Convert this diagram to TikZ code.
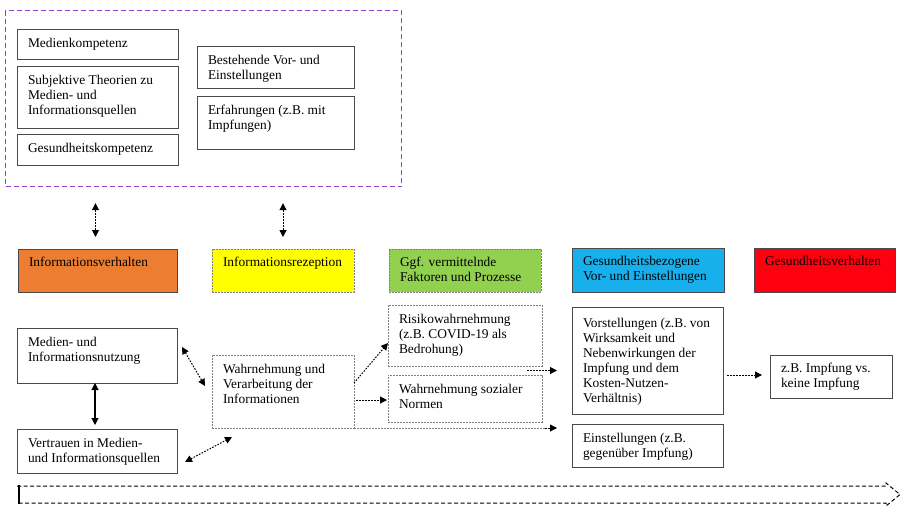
\documentclass[tikz,border=0pt]{standalone}
\usepackage{fontspec}
\setmainfont{Liberation Serif}
\usetikzlibrary{arrows.meta,calc}
\definecolor{borderc}{HTML}{4A4A4A}
\definecolor{dotc}{HTML}{808080}
\definecolor{purplec}{HTML}{8A3FC8}
\definecolor{orangec}{HTML}{ED7D31}
\definecolor{yellowc}{HTML}{FFFF00}
\definecolor{greenc}{HTML}{92D050}
\definecolor{bluec}{HTML}{18B0EC}
\definecolor{redc}{HTML}{FF0010}
\newcommand\mybx[8]{\node[#6,anchor=north west,inner sep=0pt,outer sep=0pt] (#1) at (#2,#3) {\parbox[c][#5pt][t]{#4pt}{\fontsize{13.4}{15}\selectfont\parindent=0pt\leftskip=11pt\rightskip=0pt plus 1fil\vskip#7pt\strut#8}};}
\tikzset{
  solidbox/.style={draw=borderc,line width=0.9pt},
  dotbox/.style={draw=dotc,line width=0.9pt,dash pattern=on 1.6pt off 1.4pt},
  tipa/.tip={Triangle[length=7pt,width=7pt]},
  dotarrow/.style={line width=1pt,dash pattern=on 1.6pt off 1.4pt,-tipa},
  dotboth/.style={line width=1pt,dash pattern=on 1.6pt off 1.4pt,tipa-tipa},
  solidboth/.style={line width=1.1pt,tipa-tipa},
}
\begin{document}
\begin{tikzpicture}[x=1pt,y=-1pt]
\useasboundingbox (0,0) rectangle (905,509);
% context frame
\node[draw=purplec,line width=1.2pt,dash pattern=on 5pt off 3pt,minimum width=396pt,minimum height=176pt,anchor=north west,inner sep=0pt] (ctx) at (5,10) {};
\mybx{a1}{17}{29}{161}{30}{solidbox}{7.5}{Medienkompetenz}
\mybx{a2}{17}{66}{161}{62}{solidbox}{7.5}{Subjektive Theorien zu\\Medien- und\\Informationsquellen}
\mybx{a3}{17}{134}{161}{31}{solidbox}{7.5}{Gesundheitskompetenz}
\mybx{b1}{197}{46}{157}{42}{solidbox}{7.5}{Bestehende Vor- und\\Einstellungen}
\mybx{b2}{197}{96}{157}{53}{solidbox}{7.5}{Erfahrungen (z.B. mit\\Impfungen)}
% headers
\mybx{h1}{18}{249}{159}{43}{solidbox,fill=orangec}{6.5}{Informationsverhalten}
\mybx{h2}{212}{249}{142}{43}{dotbox,fill=yellowc}{6.5}{Informationsrezeption}
\mybx{h3}{389}{249}{152}{43}{dotbox,fill=greenc}{6.5}{Ggf. vermittelnde\\Faktoren und Prozesse}
\mybx{h4}{572}{248}{152}{44}{solidbox,fill=bluec}{7}{Gesundheitsbezogene\\Vor- und Einstellungen}
\mybx{h5}{754}{248}{141}{44}{solidbox,fill=redc}{6.5}{Gesundheitsverhalten}
% lower boxes
\mybx{m1}{17}{328}{160}{55}{solidbox}{7.5}{Medien- und\\Informationsnutzung}
\mybx{m2}{17}{429}{160}{44}{solidbox}{7.5}{Vertrauen in Medien-\\und Informationsquellen}
\mybx{w1}{212}{355}{142}{73}{dotbox}{8}{Wahrnehmung und\\Verarbeitung der\\Informationen}
\mybx{r1}{388}{305}{154}{61}{dotbox}{7.5}{Risikowahrnehmung\\(z.B. COVID-19 als\\Bedrohung)}
\mybx{r2}{388}{375}{154}{47}{dotbox}{7.5}{Wahrnehmung sozialer\\Normen}
\mybx{v1}{572}{307}{151}{107}{solidbox}{10}{Vorstellungen (z.B. von\\Wirksamkeit und\\Nebenwirkungen der\\Impfung und dem\\Kosten-Nutzen-\\Verhältnis)}
\mybx{e1}{572}{424}{151}{43}{solidbox}{7.5}{Einstellungen (z.B.\\gegenüber Impfung)}
\mybx{z1}{770}{355}{122}{43}{solidbox}{6.5}{z.B. Impfung vs.\\keine Impfung}
% connectors
\draw[dotboth] ($(ctx.south -| h1.north)+(-2,16)$) -- ($(h1.north)+(-2,-12)$);
\draw[dotboth] ($(ctx.south -| h2.north)+(0,16)$) -- ($(h2.north)+(0,-12)$);
\draw[solidboth] ($(m1.south)+(-2,0)$) -- ($(m2.north)+(-2,-4)$);
\draw[dotboth] ($(m1.east)+(5,-8.5)$) -- ($(w1.west)+(-7,-5.5)$);
\draw[dotboth] ($(m2.east)+(8,11)$) -- ($(w1.south west)+(20,9)$);
\draw[dotarrow] ($(w1.east)+(0,-8.5)$) -- ($(r1.west)+(0,7.5)$);
\draw[dotarrow] ($(w1.east)+(2,8.5)$) -- ($(r2.west)+(-1,1.5)$);
\coordinate (e1in) at ($(e1.north west)+(-15,4)$);
\draw[dotarrow,draw=dotc,-] (w1.south east) -- ($(w1.south east -| e1in)+(-12,0)$);
\draw[dotarrow] ($(w1.south east -| e1in)+(-12,0)$) -- (e1in);
\coordinate (rg) at ($(r1.south east)!0.5!(r2.north east)+(-15,0)$);
\draw[dotarrow] (rg) -- ($(v1.west |- rg)+(-15,0)$);
\draw[dotarrow] ($(v1.east |- z1.west)+(4,-1.5)$) -- ($(z1.west)+(-8,-1.5)$);
% bottom process arrow
\draw[line width=1pt,dash pattern=on 4pt off 2.5pt] (17,486) -- (886,486) -- (886,483) -- (900,494.5) -- (886,506) -- (886,503) -- (17,503);
\draw[line width=2.5pt] (19,485) -- (19,504);
\end{tikzpicture}
\end{document}
